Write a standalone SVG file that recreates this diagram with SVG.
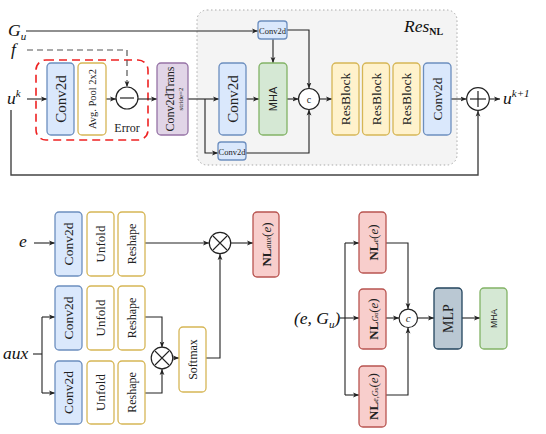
<svg xmlns="http://www.w3.org/2000/svg" width="546" height="434" viewBox="0 0 546 434">
<defs>
<marker id="ah" viewBox="0 0 10 10" refX="10" refY="5" markerWidth="6" markerHeight="6" orient="auto" markerUnits="userSpaceOnUse">
<path d="M0,1 L10,5 L0,9 L2.5,5 Z" fill="#222"/>
</marker>
<marker id="ahg" viewBox="0 0 10 10" refX="10" refY="5" markerWidth="6" markerHeight="6" orient="auto" markerUnits="userSpaceOnUse">
<path d="M0,1 L10,5 L0,9 L2.5,5 Z" fill="#333"/>
</marker>
</defs>
<style>
.blue{fill:#dae8fc;stroke:#6c8ebf;stroke-width:1.3}
.yel{fill:#fff2cc;stroke:#d6b656;stroke-width:1.3}
.yelw{fill:#ffffff;stroke:#d6b656;stroke-width:1.3}
.grn{fill:#d5e8d4;stroke:#82b366;stroke-width:1.3}
.pur{fill:#e1d5e7;stroke:#9673a6;stroke-width:1.3}
.red{fill:#f8cecc;stroke:#b85450;stroke-width:1.3}
.mlp{fill:#bac8d3;stroke:#23445d;stroke-width:1.3}
.circ{fill:#ffffff;stroke:#222;stroke-width:1.2}
.ln{fill:none;stroke:#222;stroke-width:1.1}
.t{font-family:"Liberation Serif","DejaVu Serif",serif;fill:#222;text-anchor:middle;dominant-baseline:central}
.s{font-family:"Liberation Sans","DejaVu Sans",sans-serif;fill:#222;text-anchor:middle;dominant-baseline:central}
.m{font-family:"Liberation Serif","DejaVu Serif",serif;font-style:italic;fill:#111;font-size:17.5px}
</style>

<!-- Res_NL container -->
<g id="resnl">
<rect x="197" y="10" width="260" height="155" rx="10" fill="#f4f4f4" stroke="#aaaaaa" stroke-width="1" stroke-dasharray="1.5,2.5"/>
<text x="404" y="32" class="m" font-size="17">Res<tspan font-style="normal" font-weight="bold" font-size="10" dy="3">NL</tspan></text>
</g>

<!-- Error block container -->
<g id="error">
<rect x="36" y="60" width="112" height="80" rx="10" fill="none" stroke="#ee2222" stroke-width="1.6" stroke-dasharray="8,5"/>
<text x="127" y="128" class="t" font-size="12">Error</text>
</g>

<!-- labels -->
<g id="labels">
<text x="8" y="36" class="m">G<tspan font-size="11" dy="4">u</tspan></text>
<text x="11" y="55" class="m">f</text>
<text x="7" y="104" class="m">u<tspan font-size="11" dy="-7">k</tspan></text>
<text x="503" y="104" class="m">u<tspan font-size="11" dy="-7">k+1</tspan></text>
<text x="19" y="247" class="m">e</text>
<text x="3" y="359" class="m">aux</text>
<text x="294" y="324" class="m" font-style="normal">(<tspan font-style="italic">e</tspan>, <tspan font-style="italic">G</tspan><tspan font-style="italic" font-size="11" dy="4">u</tspan><tspan dy="-4">)</tspan></text>
</g>

<!-- connectors -->
<g id="connectors">
<path class="ln" d="M26,31 H258" marker-end="url(#ah)"/>
<path d="M27,50 H127 V87" fill="none" stroke="#555" stroke-width="1.2" stroke-dasharray="6,4" marker-end="url(#ah)"/>
<path class="ln" d="M27,99 H47" marker-end="url(#ah)"/>
<path class="ln" d="M106,99 H116" marker-end="url(#ah)"/>
<path class="ln" d="M138,99 H157" marker-end="url(#ah)"/>
<path class="ln" d="M188,99 H219" marker-end="url(#ah)"/>
<path class="ln" d="M205,99 V153 H218" marker-end="url(#ah)"/>
<path class="ln" d="M273,39 V63" marker-end="url(#ah)"/>
<path class="ln" d="M246,99 H259" marker-end="url(#ah)"/>
<path class="ln" d="M287,99 H298.5" marker-end="url(#ah)"/>
<path class="ln" d="M287,30 H309 V88.5" marker-end="url(#ah)"/>
<path class="ln" d="M246,153 H309 V109.5" marker-end="url(#ah)"/>
<path class="ln" d="M319.5,99 H332" marker-end="url(#ah)"/>
<path class="ln" d="M451,99 H466.5" marker-end="url(#ah)"/>
<path class="ln" d="M489,99 H500" marker-end="url(#ah)"/>
<path d="M11,110 V175 H478 V110.5" fill="none" stroke="#444" stroke-width="1.4" marker-end="url(#ahg)"/>

<path class="ln" d="M34,243 H55" marker-end="url(#ah)"/>
<path class="ln" d="M145,243 H209" marker-end="url(#ah)"/>
<path class="ln" d="M231,243 H253" marker-end="url(#ah)"/>
<path class="ln" d="M33,354 H42"/>
<path class="ln" d="M42,317 V393"/>
<path class="ln" d="M42,317 H55" marker-end="url(#ah)"/>
<path class="ln" d="M42,393 H55" marker-end="url(#ah)"/>
<path class="ln" d="M145,317 H162 V347.5" marker-end="url(#ah)"/>
<path class="ln" d="M145,393 H162 V369" marker-end="url(#ah)"/>
<path class="ln" d="M173,358 H179" marker-end="url(#ah)"/>
<path class="ln" d="M206,358 H220 V254" marker-end="url(#ah)"/>

<path class="ln" d="M340,318 H345"/>
<path class="ln" d="M345,243 V395"/>
<path class="ln" d="M345,243 H359" marker-end="url(#ah)"/>
<path class="ln" d="M345,318 H359" marker-end="url(#ah)"/>
<path class="ln" d="M345,395 H359" marker-end="url(#ah)"/>
<path class="ln" d="M386,243 H408 V309" marker-end="url(#ah)"/>
<path class="ln" d="M386,318 H399" marker-end="url(#ah)"/>
<path class="ln" d="M386,395 H408 V327.5" marker-end="url(#ah)"/>
<path class="ln" d="M417.5,318 H434" marker-end="url(#ah)"/>
<path class="ln" d="M462,318 H480" marker-end="url(#ah)"/>
</g>

<!-- top nodes -->
<g id="conv2d_a"><rect class="blue" x="47" y="63" width="27" height="72" rx="4"/><text class="t" font-size="15" transform="translate(60.5,99) rotate(-90)">Conv2d</text></g>
<g id="avgpool"><rect class="yelw" x="78" y="63" width="28" height="72" rx="4"/><text class="t" font-size="10.5" transform="translate(92,99) rotate(-90)">Avg. Pool 2x2</text></g>
<g id="minus"><circle class="circ" cx="127" cy="98" r="11"/><line x1="120" y1="98" x2="134" y2="98" stroke="#222" stroke-width="1.2"/></g>
<g id="conv2dtrans"><rect class="pur" x="157" y="63" width="31" height="72" rx="4"/><text class="t" font-size="12" transform="translate(169.5,99) rotate(-90)">Conv2dTrans</text><text class="t" font-size="7" transform="translate(180.5,99) rotate(-90)">stride=2</text></g>
<g id="conv2d_small_top"><rect class="blue" x="258" y="21" width="29" height="18" rx="3"/><text class="t" font-size="8.5" x="272.5" y="30.5">Conv2d</text></g>
<g id="conv2d_b"><rect class="blue" x="219" y="63" width="27" height="72" rx="4"/><text class="t" font-size="15" transform="translate(232.5,99) rotate(-90)">Conv2d</text></g>
<g id="conv2d_small_bot"><rect class="blue" x="218" y="142" width="28" height="18" rx="3"/><text class="t" font-size="8.5" x="232" y="151.5">Conv2d</text></g>
<g id="mha_top"><rect class="grn" x="259" y="63" width="28" height="72" rx="4"/><text class="s" font-size="11" transform="translate(273,99) rotate(-90)">MHA</text></g>
<g id="concat_top"><circle class="circ" cx="309" cy="99" r="10.5"/><text class="t" font-size="10" x="309" y="99.5">c</text></g>
<g id="resblock1"><rect class="yel" x="332" y="63" width="27" height="72" rx="4"/><text class="t" font-size="13.5" transform="translate(345.5,99) rotate(-90)">ResBlock</text></g>
<g id="resblock2"><rect class="yel" x="362.5" y="63" width="27" height="72" rx="4"/><text class="t" font-size="13.5" transform="translate(376,99) rotate(-90)">ResBlock</text></g>
<g id="resblock3"><rect class="yel" x="393" y="63" width="27" height="72" rx="4"/><text class="t" font-size="13.5" transform="translate(406.5,99) rotate(-90)">ResBlock</text></g>
<g id="conv2d_c"><rect class="blue" x="423.5" y="63" width="27.5" height="72" rx="4"/><text class="t" font-size="13.5" transform="translate(437.2,99) rotate(-90)">Conv2d</text></g>
<g id="plus"><circle class="circ" cx="478" cy="99" r="11.3"/><line x1="470" y1="99" x2="486" y2="99" stroke="#222" stroke-width="1.2"/><line x1="478" y1="91" x2="478" y2="107" stroke="#222" stroke-width="1.2"/></g>

<!-- bottom-left nodes -->
<g id="bl_conv1"><rect class="blue" x="55" y="212" width="27" height="64" rx="4"/><text class="t" font-size="13.5" transform="translate(68.5,244) rotate(-90)">Conv2d</text></g>
<g id="bl_unfold1"><rect class="yelw" x="87" y="212" width="27" height="64" rx="4"/><text class="t" font-size="13" transform="translate(100.5,244) rotate(-90)">Unfold</text></g>
<g id="bl_reshape1"><rect class="yelw" x="118" y="212" width="27" height="64" rx="4"/><text class="t" font-size="12" transform="translate(131.5,244) rotate(-90)">Reshape</text></g>
<g id="bl_conv2"><rect class="blue" x="55" y="286" width="27" height="64" rx="4"/><text class="t" font-size="13.5" transform="translate(68.5,318) rotate(-90)">Conv2d</text></g>
<g id="bl_unfold2"><rect class="yelw" x="87" y="286" width="27" height="64" rx="4"/><text class="t" font-size="13" transform="translate(100.5,318) rotate(-90)">Unfold</text></g>
<g id="bl_reshape2"><rect class="yelw" x="118" y="286" width="27" height="64" rx="4"/><text class="t" font-size="12" transform="translate(131.5,318) rotate(-90)">Reshape</text></g>
<g id="bl_conv3"><rect class="blue" x="55" y="361" width="27" height="63" rx="4"/><text class="t" font-size="13.5" transform="translate(68.5,392.5) rotate(-90)">Conv2d</text></g>
<g id="bl_unfold3"><rect class="yelw" x="87" y="361" width="27" height="63" rx="4"/><text class="t" font-size="13" transform="translate(100.5,392.5) rotate(-90)">Unfold</text></g>
<g id="bl_reshape3"><rect class="yelw" x="118" y="361" width="27" height="63" rx="4"/><text class="t" font-size="12" transform="translate(131.5,392.5) rotate(-90)">Reshape</text></g>
<g id="bl_times2"><circle class="circ" cx="162" cy="358" r="10.8"/><path d="M155,351 L169,365 M169,351 L155,365" stroke="#222" stroke-width="1.1"/></g>
<g id="bl_softmax"><rect class="yelw" x="179" y="327" width="27" height="65" rx="4"/><text class="t" font-size="12" transform="translate(192.5,359.5) rotate(-90)">Softmax</text></g>
<g id="bl_times1"><circle class="circ" cx="220" cy="243" r="10.7"/><path d="M213,236 L227,250 M227,236 L213,250" stroke="#222" stroke-width="1.1"/></g>
<g id="bl_nlaux"><rect class="red" x="253" y="212" width="26" height="65" rx="4"/><text class="t" font-size="13" transform="translate(266,244.5) rotate(-90)"><tspan font-weight="bold">NL</tspan><tspan font-size="8" font-style="italic" dy="2">aux</tspan><tspan dy="-2">(</tspan><tspan font-style="italic">e</tspan>)</text></g>

<!-- bottom-right nodes -->
<g id="br_nle"><rect class="red" x="359" y="212" width="27" height="61" rx="4"/><text class="t" font-size="13" transform="translate(372.5,242.5) rotate(-90)"><tspan font-weight="bold">NL</tspan><tspan font-size="8" font-style="italic" dy="2">e</tspan><tspan dy="-2">(</tspan><tspan font-style="italic">e</tspan>)</text></g>
<g id="br_nlgu"><rect class="red" x="359" y="289" width="27" height="60" rx="4"/><text class="t" font-size="13" transform="translate(372.5,319) rotate(-90)"><tspan font-weight="bold">NL</tspan><tspan font-size="8" font-style="italic" dy="2">G</tspan><tspan font-size="6" font-style="italic" dy="1">u</tspan><tspan dy="-3">(</tspan><tspan font-style="italic">e</tspan>)</text></g>
<g id="br_nlegu"><rect class="red" x="359" y="366" width="27" height="61" rx="4"/><text class="t" font-size="13" transform="translate(372.5,396.5) rotate(-90)"><tspan font-weight="bold">NL</tspan><tspan font-size="8" font-style="italic" dy="2">e,G</tspan><tspan font-size="6" font-style="italic" dy="1">u</tspan><tspan dy="-3">(</tspan><tspan font-style="italic">e</tspan>)</text></g>
<g id="br_concat"><circle class="circ" cx="408.3" cy="318.3" r="9.2"/><text class="t" font-size="11" font-style="italic" x="408.3" y="318">c</text></g>
<g id="br_mlp"><rect class="mlp" x="434" y="288" width="28" height="61" rx="4"/><text class="t" font-size="14" transform="translate(448,318.5) rotate(-90)">MLP</text></g>
<g id="br_mha"><rect class="grn" x="480" y="288" width="27" height="61" rx="4"/><text class="s" font-size="8.5" transform="translate(493.5,318.5) rotate(-90)">MHA</text></g>
</svg>
